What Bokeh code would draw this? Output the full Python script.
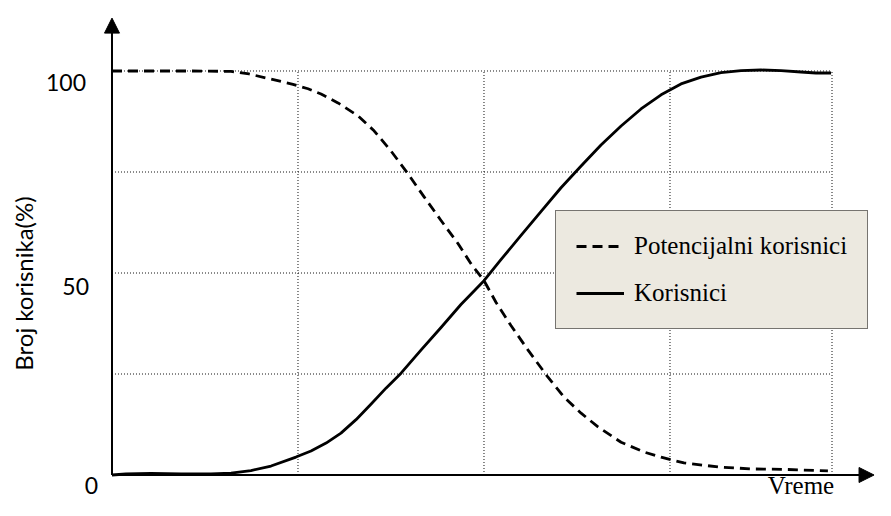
from bokeh.plotting import figure
from bokeh.models import Range1d, Arrow, NormalHead, Label, Legend, LegendItem
from bokeh.core.properties import value
from bokeh.embed import file_html
from bokeh.resources import INLINE
import math

# ---- data (time in arbitrary units, users in %) ----
pot_x = [0.000, 0.210, 0.425, 0.640, 0.737, 0.855, 0.973, 1.054, 1.124, 1.215, 1.323, 1.409,
         1.500, 1.591, 1.677, 1.769, 1.860, 1.930, 2.000, 2.065, 2.145, 2.237, 2.344, 2.430,
         2.522, 2.613, 2.737, 2.860, 2.952, 3.075, 3.258, 3.435, 3.613, 3.849]
pot_y = [100.0, 100.0, 100.0, 99.9, 99.26, 98.0, 96.7, 95.6, 94.3, 92.1, 88.9, 85.2,
         80.2, 74.6, 68.9, 63.0, 57.3, 52.3, 48.1, 42.7, 37.0, 30.9, 24.2, 19.3,
         15.3, 11.9, 8.1, 5.7, 4.4, 3.0, 2.0, 1.5, 1.4, 1.0]

kor_x = [0.000, 0.075, 0.210, 0.371, 0.532, 0.640, 0.747, 0.855, 0.989, 1.070, 1.151, 1.231,
         1.312, 1.392, 1.473, 1.554, 1.661, 1.769, 1.876, 2.000, 2.091, 2.199, 2.306, 2.414,
         2.522, 2.629, 2.737, 2.844, 2.952, 3.059, 3.167, 3.274, 3.382, 3.489, 3.597, 3.704,
         3.785, 3.866]
kor_y = [0.0, 0.25, 0.37, 0.25, 0.25, 0.49, 1.11, 2.22, 4.44, 5.93, 7.9, 10.37,
         13.7, 17.5, 21.5, 25.2, 30.9, 36.5, 42.2, 48.1, 53.3, 59.3, 65.2, 71.1,
         76.5, 81.7, 86.4, 90.6, 94.1, 96.8, 98.5, 99.6, 100.1, 100.25, 100.1, 99.75,
         99.5, 99.5]

grid_x = [1, 2, 3, 3.871]
grid_y = [25, 50, 75, 100]
x_end = 3.871
y_ticks = [100, 50, 0]
y_tick_labels = ["100", "50", "0"]
series_labels = ["Potencijalni korisnici", "Korisnici"]
x_title = "Vreme"
y_title = "Broj korisnika(%)"

p = figure(width=875, height=500, output_backend="svg", toolbar_location=None,
           x_range=Range1d(-0.59946, 4.10484), y_range=Range1d(-6.31, 117.45),
           min_border=0, min_border_left=0, min_border_right=0,
           min_border_top=0, min_border_bottom=0)
p.xaxis.visible = False
p.yaxis.visible = False
p.xgrid.visible = False
p.ygrid.visible = False
p.outline_line_color = None
p.background_fill_color = "white"

# dotted grid
p.segment(x0=grid_x, y0=[0] * len(grid_x), x1=grid_x, y1=[100] * len(grid_x),
          line_color="#111111", line_width=1, line_dash="1 2")
p.segment(x0=[0] * len(grid_y), y0=grid_y, x1=[x_end] * len(grid_y), y1=grid_y,
          line_color="#111111", line_width=1, line_dash="1 2")

# axes with arrows
p.add_layout(Arrow(end=NormalHead(size=15, fill_color="black", line_color="black"),
                   x_start=0, y_start=0, x_end=0, y_end=113.09,
                   line_color="black", line_width=2))
p.add_layout(Arrow(end=NormalHead(size=15, fill_color="black", line_color="black"),
                   x_start=0, y_start=0, x_end=4.097, y_end=0,
                   line_color="black", line_width=2))

# curves
r_pot = p.line(pot_x, pot_y, line_color="black", line_width=2.8, line_dash="10 6",
               line_join="round")
r_kor = p.line(kor_x, kor_y, line_color="black", line_width=2.8, line_join="round")

# y tick labels
p.text(x=[0, 0, 0], y=y_ticks, text=y_tick_labels,
       x_offset=[-26, -23, -14], y_offset=[12, 13, 10],
       text_align="right", text_baseline="middle",
       text_font=value("Lato"), text_font_size="23px", text_color="black")

# titles
p.add_layout(Label(x=-0.478, y=47.4, text=y_title, angle=math.pi / 2,
                   text_align="center", text_baseline="middle",
                   text_font="Lato", text_font_size="24px", text_color="black"))
p.add_layout(Label(x=3.704, y=-5.9, text=x_title, text_align="center",
                   text_baseline="bottom", text_font="Liberation Serif",
                   text_font_size="25px", text_color="black"))

legend = Legend(items=[LegendItem(label=series_labels[0], renderers=[r_pot]),
                       LegendItem(label=series_labels[1], renderers=[r_kor])],
                location=(555, 171), margin=0, padding=20, spacing=17,
                label_height=30, glyph_height=30, glyph_width=48, label_standoff=10,
                label_text_font="Liberation Serif", label_text_font_size="25px",
                label_text_color="black",
                border_line_color="black", border_line_width=1.5,
                background_fill_color="#ECE9E0", background_fill_alpha=1.0)
p.add_layout(legend, "center")

open("out.html", "w").write(file_html(p, INLINE))
